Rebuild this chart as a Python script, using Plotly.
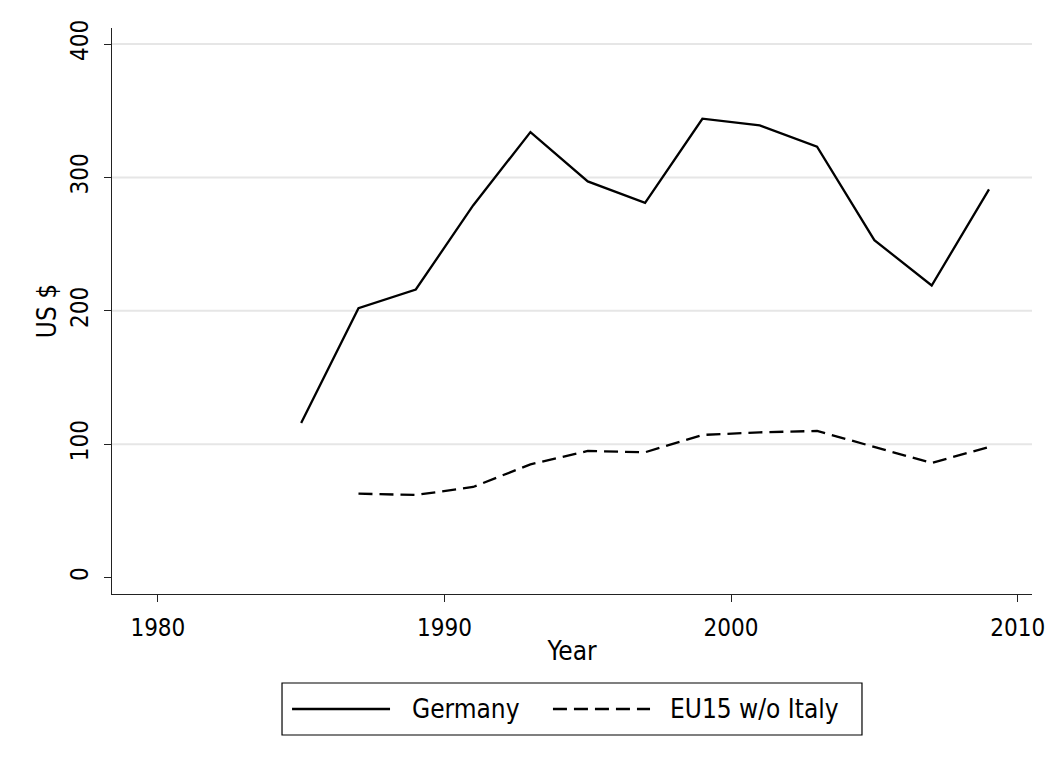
import plotly.graph_objects as go

# Biennial observations, 1985-2009
years = [1985, 1987, 1989, 1991, 1993, 1995, 1997, 1999, 2001, 2003, 2005, 2007, 2009]
germany = [116, 202, 216, 279, 334, 297, 281, 344, 339, 323, 253, 219, 291]
eu15_years = [1987, 1989, 1991, 1993, 1995, 1997, 1999, 2001, 2003, 2005, 2007, 2009]
eu15_wo_italy = [63, 62, 68, 85, 95, 94, 107, 109, 110, 98, 86, 98]

x_ticks = [1980, 1990, 2000, 2010]
y_ticks = [0, 100, 200, 300, 400]

FONT = "DejaVu Sans Condensed, DejaVu Sans, sans-serif"
TICK_FS = 24
TEXT_FS = 26
DASH = "14px,7px"

fig = go.Figure()
fig.add_trace(go.Scatter(x=years, y=germany, mode="lines", name="Germany",
                         line=dict(color="black", width=2.3), showlegend=False))
fig.add_trace(go.Scatter(x=eu15_years, y=eu15_wo_italy, mode="lines", name="EU15 w/o Italy",
                         line=dict(color="black", width=2.3, dash=DASH), showlegend=False))

axis_common = dict(showline=True, linecolor="#222", linewidth=1.3, ticks="outside",
                   ticklen=7, tickwidth=1.3, tickcolor="#222", zeroline=False,
                   tickfont=dict(family=FONT, size=TICK_FS, color="black"))

fig.update_xaxes(range=[1978.4, 2010.5], tickvals=x_ticks, showgrid=False,
                 ticklabelstandoff=5,
                 title=dict(text="Year", font=dict(family=FONT, size=TEXT_FS, color="black"), standoff=0),
                 **axis_common)
fig.update_yaxes(range=[-12.2, 412], tickvals=y_ticks, tickangle=-90,
                 showgrid=False, ticklabelstandoff=6,
                 title=dict(text="US $", font=dict(family=FONT, size=TEXT_FS, color="black"), standoff=2),
                 **axis_common)

# Horizontal gridlines (none at zero)
for v in y_ticks[1:]:
    fig.add_shape(type="line", xref="paper", yref="y", x0=0, x1=1, y0=v, y1=v,
                  line=dict(color="#e6e6e6", width=2), layer="below")

# Legend box beneath the axis title
lg_y = -0.2032
fig.add_shape(type="rect", xref="paper", yref="paper", x0=0.1848, x1=0.8152, y0=-0.2491, y1=-0.1572,
              line=dict(color="black", width=1.2))
fig.add_shape(type="line", xref="paper", yref="paper", x0=0.1957, x1=0.3022, y0=lg_y, y1=lg_y,
              line=dict(color="black", width=2.3))
fig.add_shape(type="line", xref="paper", yref="paper", x0=0.4793, x1=0.5848, y0=lg_y, y1=lg_y,
              line=dict(color="black", width=2.3, dash=DASH))
fig.add_annotation(xref="paper", yref="paper", x=0.3239, y=lg_y, text="Germany", showarrow=False,
                   xanchor="left", yanchor="middle", font=dict(family=FONT, size=TEXT_FS, color="black"))
fig.add_annotation(xref="paper", yref="paper", x=0.6043, y=lg_y, text="EU15 w/o Italy", showarrow=False,
                   xanchor="left", yanchor="middle", font=dict(family=FONT, size=TEXT_FS, color="black"))

fig.update_layout(width=1061, height=766, margin=dict(l=112, r=29, t=28, b=172),
                  plot_bgcolor="white", paper_bgcolor="white")

fig.write_html("out.html")
